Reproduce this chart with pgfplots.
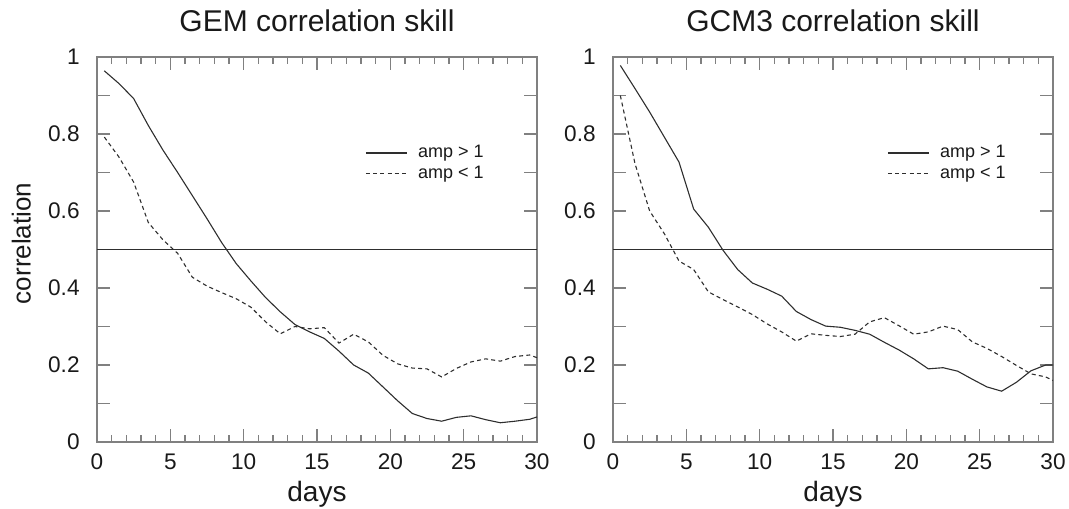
\documentclass[border=0pt]{standalone}
\usepackage{pgfplots}
\pgfplotsset{compat=1.18}
\usepackage{fontspec}
\setmainfont{Liberation Sans}
\definecolor{framec}{gray}{0.5}
\definecolor{curvec}{gray}{0.18}

\pgfplotstableread{
x y
0.5 0.964
1.5 0.931
2.5 0.892
3.5 0.822
4.5 0.758
5.5 0.700
6.5 0.640
7.5 0.580
8.5 0.518
9.5 0.463
10.5 0.418
11.5 0.375
12.5 0.338
13.5 0.305
14.5 0.286
15.5 0.269
16.5 0.236
17.5 0.200
18.5 0.179
19.5 0.143
20.5 0.107
21.5 0.074
22.5 0.061
23.5 0.054
24.5 0.064
25.5 0.068
26.5 0.058
27.5 0.050
28.5 0.054
29.5 0.059
30 0.065
}\gemhi
\pgfplotstableread{
x y
0.5 0.792
1.5 0.740
2.5 0.675
3.5 0.570
4.5 0.525
5.5 0.490
6.5 0.428
7.5 0.405
8.5 0.388
9.5 0.372
10.5 0.350
11.5 0.312
12.5 0.281
13.5 0.300
14.5 0.294
15.5 0.297
16.5 0.257
17.5 0.280
18.5 0.260
19.5 0.225
20.5 0.203
21.5 0.192
22.5 0.190
23.5 0.169
24.5 0.191
25.5 0.208
26.5 0.216
27.5 0.210
28.5 0.222
29.5 0.226
30 0.219
}\gemlo
\pgfplotstableread{
x y
0.5 0.978
1.5 0.918
2.5 0.857
3.5 0.792
4.5 0.727
5.5 0.605
6.5 0.558
7.5 0.498
8.5 0.448
9.5 0.413
10.5 0.397
11.5 0.379
12.5 0.339
13.5 0.318
14.5 0.301
15.5 0.298
16.5 0.290
17.5 0.280
18.5 0.259
19.5 0.239
20.5 0.216
21.5 0.190
22.5 0.193
23.5 0.184
24.5 0.163
25.5 0.143
26.5 0.132
27.5 0.155
28.5 0.185
29.5 0.200
30 0.200
}\gcmhi
\pgfplotstableread{
x y
0.5 0.900
1.5 0.723
2.5 0.600
3.5 0.541
4.5 0.470
5.5 0.448
6.5 0.390
7.5 0.370
8.5 0.351
9.5 0.331
10.5 0.307
11.5 0.286
12.5 0.262
13.5 0.281
14.5 0.277
15.5 0.274
16.5 0.280
17.5 0.312
18.5 0.323
19.5 0.302
20.5 0.280
21.5 0.286
22.5 0.301
23.5 0.292
24.5 0.260
25.5 0.243
26.5 0.222
27.5 0.199
28.5 0.177
29.5 0.169
30 0.160
}\gcmlo

\pgfplotsset{
  panel/.style={
    scale only axis, width=220pt, height=192.5pt,
    xmin=0, xmax=30, ymin=0, ymax=1,
    axis line style={framec, line width=0.6pt},
    every tick/.style={framec, line width=0.6pt},
    tick pos=both, tick align=inside,
    major tick length=6.5pt, minor tick length=3.5pt,
    xtick={0,5,10,15,20,25,30},
    xticklabels={0,5,10,15,20,25,30},
    minor x tick num=4,
    ytick={0,0.1,0.2,0.3,0.4,0.5,0.6,0.7,0.8,0.9,1},
    yticklabels={0,,0.2,,0.4,,0.6,,0.8,,1},
    tick label style={font=\fontsize{11.3}{13}\selectfont, text=black!90},
    xticklabel style={anchor=north, inner sep=0pt, yshift=-5.6pt},
    yticklabel style={anchor=east, inner sep=0pt, xshift=-8.5pt},
    every axis title shift=0pt,
    title style={at={(0.5,1)}, anchor=base, yshift=12.6pt, font=\fontsize{15}{18}\selectfont, text=black!90},
    xlabel={days},
    xlabel style={at={(axis description cs:0.5,0)}, anchor=base, yshift=-29.8pt, font=\fontsize{14}{16}\selectfont, text=black!90},
    legend cell align=left,
    legend image code/.code={\draw[##1] (0pt,0pt) -- (20.5pt,0pt);},
    legend style={draw=none, fill=none, inner sep=0pt, row sep=2.6pt, column sep=5.35pt,
      nodes={inner sep=0pt}, font=\fontsize{9}{10.8}\selectfont, text=black!90, anchor=west},
    clip=true,
  },
  hi/.style={curvec, line width=0.55pt},
  lo/.style={curvec, line width=0.55pt, dash pattern=on 2pt off 1.6pt},
}

\begin{document}
\begin{tikzpicture}
\begin{axis}[panel, title={GEM correlation skill},
  ylabel={correlation},
  ylabel style={at={(axis description cs:-0.1507,0.516)}, anchor=base, font=\fontsize{13}{15}\selectfont, text=black!90},
  legend style={at={(axis cs:18.27,0.724)}}]
\addplot[hi] table[x=x,y=y] {\gemhi};
\addlegendentry{amp > 1}
\addplot[lo] table[x=x,y=y] {\gemlo};
\addlegendentry{amp < 1}
\addplot[curvec, line width=0.55pt, forget plot] coordinates {(0,0.5) (30,0.5)};
\end{axis}
\begin{axis}[panel, at={(258pt,0pt)}, title={GCM3 correlation skill},
  legend style={at={(axis cs:18.68,0.724)}}]
\addplot[hi] table[x=x,y=y] {\gcmhi};
\addlegendentry{amp > 1}
\addplot[lo] table[x=x,y=y] {\gcmlo};
\addlegendentry{amp < 1}
\addplot[curvec, line width=0.55pt, forget plot] coordinates {(0,0.5) (30,0.5)};
\end{axis}
\pgfresetboundingbox
\useasboundingbox (-48.5pt,-33pt) rectangle (486pt,221pt);
\end{tikzpicture}
\end{document}
